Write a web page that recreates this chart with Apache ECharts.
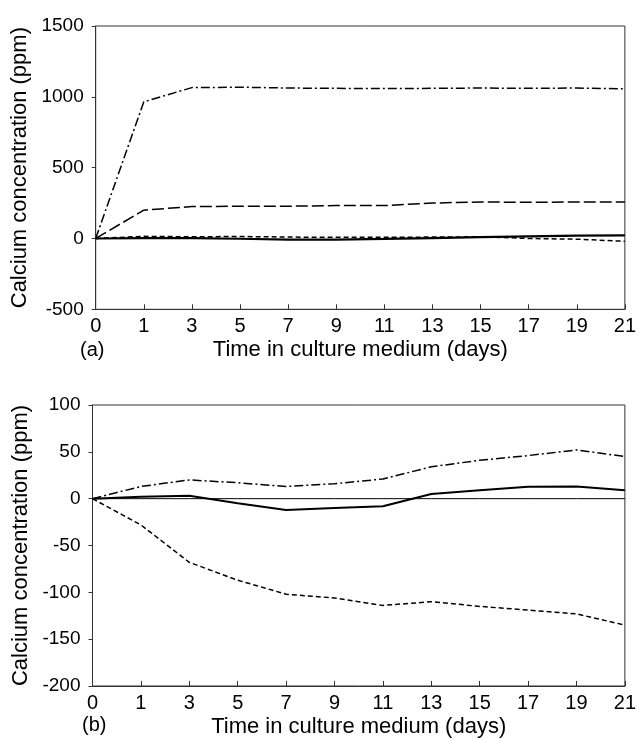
<!DOCTYPE html>
<html>
<head>
<meta charset="utf-8">
<script src="https://cdn.jsdelivr.net/npm/echarts@6/dist/echarts.min.js"></script>
<style>
html,body{margin:0;padding:0;background:#fff;}
#c{width:639px;height:739px;}
</style>
</head>
<body>
<div id="c"></div>
<script>
// Categories (days)
const days = ['0','1','3','5','7','9','11','13','15','17','19','21'];

// Panel (a) series
const aDashDot   = [0, 965, 1065, 1068, 1062, 1060, 1058, 1060, 1062, 1060, 1062, 1057];
const aLongDash  = [0, 200, 225, 228, 228, 232, 232, 250, 258, 255, 258, 258];
const aSolid     = [0, 3, 2, -2, -8, -8, -3, 3, 10, 15, 20, 22];
const aShortDash = [0, 15, 12, 14, 10, 8, 8, 10, 12, 0, -5, -20];

// Panel (b) series
const bDashDot   = [0, 13, 20, 17, 13, 16, 21, 34, 41, 46, 52, 45];
const bSolid     = [0, 2, 3, -5, -12, -10, -8, 5, 9, 12.6, 13, 9];
const bShortDash = [0, -28, -68, -87, -102, -106, -114, -110, -115, -119, -123, -135];
const bZero      = [0, 0, 0, 0, 0, 0, 0, 0, 0, 0, 0, 0];

// Axis ranges
const aY = {min: -500, max: 1500, interval: 500};
const bY = {min: -200, max: 100, interval: 50};

const FONT = '"Liberation Sans", Arial, sans-serif';
const AX = '#333';

function xAxis(gridIndex) {
  return {
    type: 'category', gridIndex, data: days, boundaryGap: false,
    axisLine: {show: true, lineStyle: {color: AX, width: 1}, onZero: false},
    axisTick: {show: true, inside: true, length: 5, lineStyle: {color: AX}},
    axisLabel: {color: '#000', fontSize: 20, fontFamily: FONT, margin: 7},
    splitLine: {show: false},
    name: 'Time in culture medium (days)', nameLocation: 'middle', nameGap: 30,
    nameTextStyle: {color: '#000', fontSize: 22, fontFamily: FONT}
  };
}
function yAxis(gridIndex, r) {
  return {
    type: 'value', gridIndex, min: r.min, max: r.max, interval: r.interval,
    axisLine: {show: true, lineStyle: {color: AX, width: 1}, onZero: false},
    axisTick: {show: true, inside: false, length: 4, lineStyle: {color: AX}},
    axisLabel: {color: '#000', fontSize: 19, fontFamily: FONT, margin: 12,
                formatter: v => String(v)},
    splitLine: {show: false},
    name: 'Calcium concentration (ppm)', nameLocation: 'middle', nameGap: 49, nameRotate: 90,
    nameTextStyle: {color: '#000', fontSize: 22, fontFamily: FONT}
  };
}
function line(xi, yi, data, type, width) {
  return {
    type: 'line', xAxisIndex: xi, yAxisIndex: yi, data,
    symbol: 'none', smooth: false, silent: true,
    lineStyle: {color: '#000', width, type}
  };
}
const DASHDOT = [9, 3, 2, 3];
const LONGDASH = [12, 4];
const SHORTDASH = [5, 3];

const chart = echarts.init(document.getElementById('c'), null, {renderer: 'canvas'});
chart.setOption({
  backgroundColor: '#fff',
  animation: false,
  title: [
    {text: '(a)', left: 80, top: 340, textStyle: {fontSize: 20, fontWeight: 'normal', color: '#000', fontFamily: FONT}, padding: 0},
    {text: '(b)', left: 82, top: 715, textStyle: {fontSize: 20, fontWeight: 'normal', color: '#000', fontFamily: FONT}, padding: 0}
  ],
  grid: [
    {left: 95.7, right: 10.7, top: 26, bottom: 429.7, show: true, borderColor: AX, borderWidth: 1, backgroundColor: 'transparent'},
    {left: 92.5, right: 13, top: 405, bottom: 49.7, show: true, borderColor: AX, borderWidth: 1, backgroundColor: 'transparent'}
  ],
  xAxis: [xAxis(0), xAxis(1)],
  yAxis: [yAxis(0, aY), yAxis(1, bY)],
  series: [
    line(0, 0, aDashDot, DASHDOT, 1.5),
    line(0, 0, aLongDash, LONGDASH, 1.5),
    line(0, 0, aShortDash, SHORTDASH, 1.5),
    line(0, 0, aSolid, 'solid', 2.2),
    line(1, 1, bZero, 'solid', 1),
    line(1, 1, bDashDot, DASHDOT, 1.5),
    line(1, 1, bShortDash, SHORTDASH, 1.5),
    line(1, 1, bSolid, 'solid', 2)
  ]
});
</script>
</body>
</html>
